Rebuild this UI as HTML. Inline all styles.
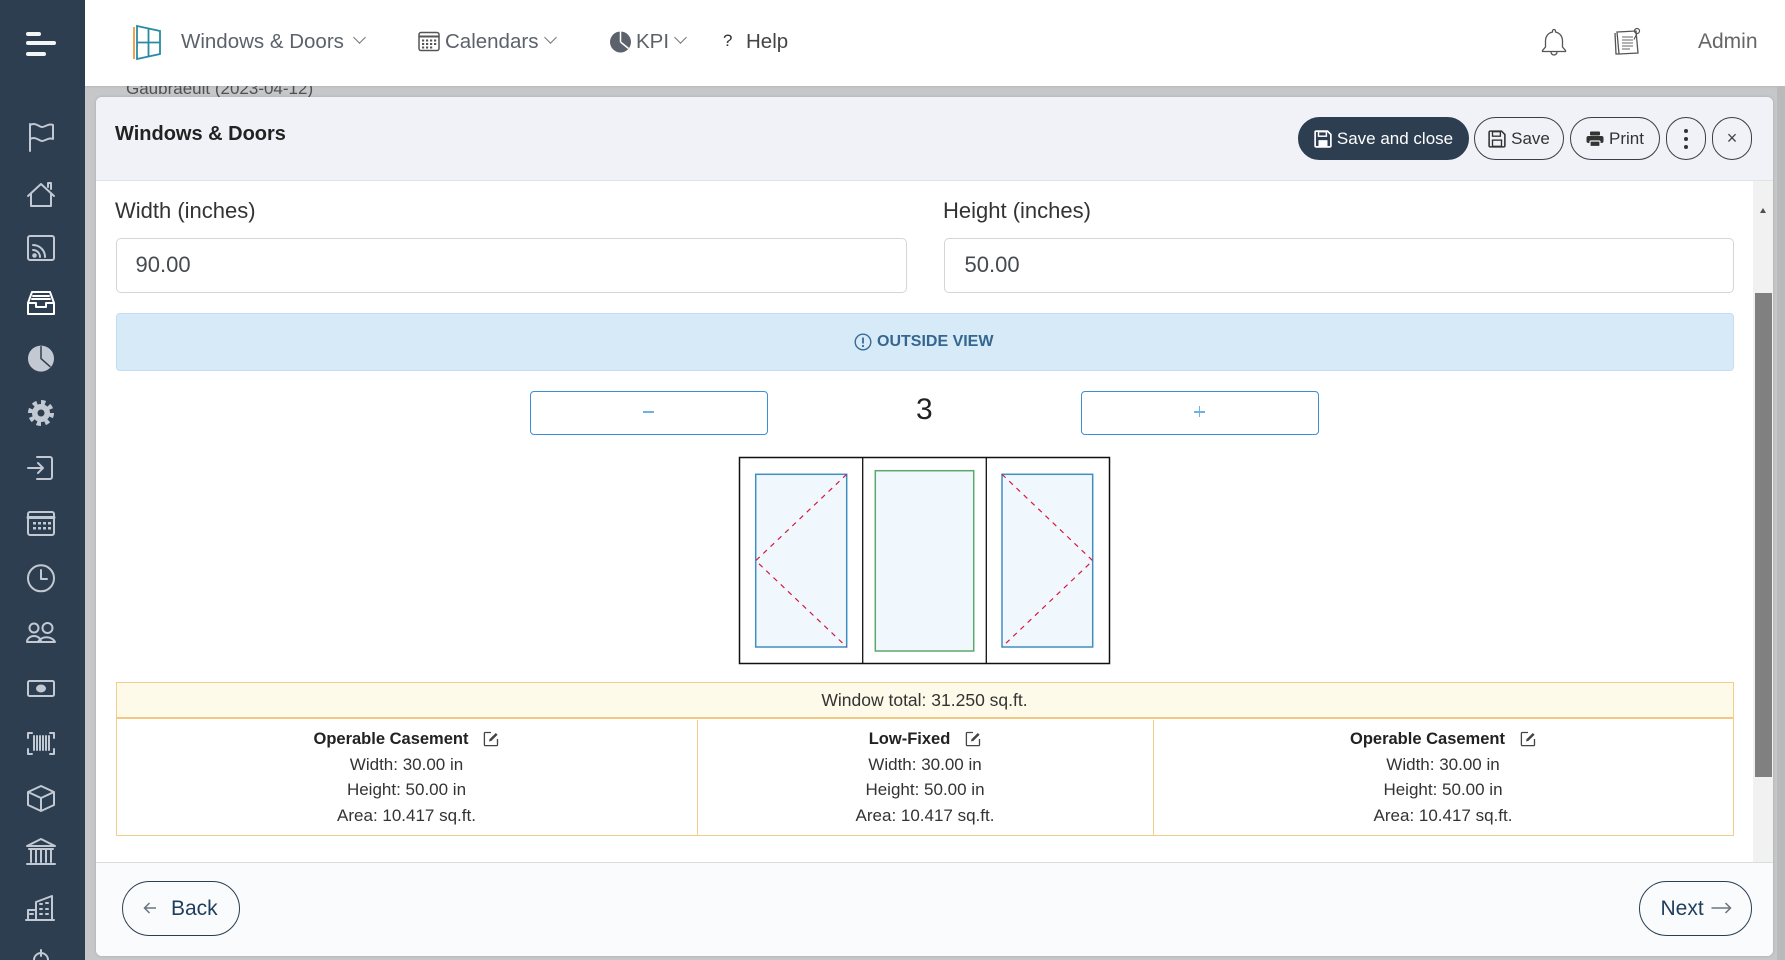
<!DOCTYPE html>
<html><head><meta charset="utf-8">
<style>
*{margin:0;padding:0;box-sizing:border-box}
html,body{width:1785px;height:960px;overflow:hidden;background:#c6c7c9;font-family:"Liberation Sans",sans-serif;color:#333}
.a{position:absolute}
.t{position:absolute;white-space:nowrap}
.btn{position:absolute;display:flex;align-items:center;justify-content:center;border:1px solid #3a3f45;border-radius:24px;font-size:17px;color:#333;gap:5px}
.chev{position:absolute;width:9px;height:9px;border-right:1.5px solid #777;border-bottom:1.5px solid #777;transform:rotate(45deg)}
.cell{position:absolute;top:720px;height:115px;display:flex;flex-direction:column;align-items:center;font-size:17px;color:#333}
.cell .h{display:flex;align-items:center;gap:15px;font-weight:bold;font-size:16.5px;color:#222;height:26px;margin-top:6px}
.cell .l{height:25.3px;line-height:25.3px}
</style></head><body>

<!-- backdrop text -->
<div class="t" style="left:126px;top:79px;font-size:17px;line-height:20px;color:#505050">Gaubraeult (2023-04-12)</div>

<!-- sidebar -->
<div class="a" style="left:0;top:0;width:85px;height:960px;background:#2c3e50"></div>
<div class="a" style="left:26px;top:32px;width:15px;height:4px;border-radius:2px;background:#f2f4f6"></div>
<div class="a" style="left:26px;top:41px;width:30px;height:4px;border-radius:2px;background:#f2f4f6"></div>
<div class="a" style="left:26px;top:52px;width:20px;height:4px;border-radius:2px;background:#f2f4f6"></div>

<svg class="a" style="left:0;top:0" width="85" height="960">
<g fill="none" stroke="#c2c9d2" stroke-width="2" stroke-linecap="round" stroke-linejoin="round">
<path d="M30 151V124 M30 125c6-3 9 2 12 2s7-4 11-2v14c-4-2-8 2-11 2s-6-5-12-2"/>
<path d="M28 196l13-12 13 12 M31 194v12h20v-12 M48 187v-4h3v6"/>
<rect x="28" y="236" width="26" height="24" rx="2"/>
<path d="M33 245a12 12 0 0 1 12 12 M33 250a7 7 0 0 1 7 7"/>
<circle cx="34.5" cy="255.5" r="1.3" fill="#c2c9d2"/>
<g stroke="#ffffff"><path d="M28 303l4-11h18l4 11v11H28z M28 303h8v4h10v-4h8 M33 296h16 M32 299h18"/></g>
<circle cx="41" cy="358.6" r="12" fill="#c2c9d2"/>
<path d="M41 358.6V346.6 M41 358.6l9 8" stroke="#2c3e50" stroke-width="1.5"/>
<circle cx="41" cy="413" r="10.5" stroke-width="5" stroke-dasharray="4.2 4" stroke-linecap="butt"/>
<circle cx="41" cy="413" r="8" fill="#c2c9d2"/>
<circle cx="41" cy="413" r="3.5" fill="#2c3e50" stroke="none"/>
<path d="M37 457h13a2 2 0 0 1 2 2v18a2 2 0 0 1-2 2H37 M28 468h15 M38 463l5 5-5 5"/>
<rect x="28" y="512" width="26" height="23" rx="2"/>
<path d="M28 517.5h26" stroke-width="3"/>
<g fill="#c2c9d2" stroke="none"><rect x="33" y="522" width="3" height="2.5"/><rect x="38" y="522" width="3" height="2.5"/><rect x="43" y="522" width="3" height="2.5"/><rect x="48" y="522" width="3" height="2.5"/><rect x="33" y="527" width="3" height="2.5"/><rect x="38" y="527" width="3" height="2.5"/><rect x="43" y="527" width="3" height="2.5"/><rect x="48" y="527" width="3" height="2.5"/></g>
<circle cx="41" cy="578.3" r="13"/>
<path d="M41 570v9h6"/>
<circle cx="34" cy="628" r="4.5"/><circle cx="47.5" cy="628" r="5"/>
<path d="M27 642a7 6 0 0 1 14 0z M38 642a9 7 0 0 1 17 0z"/>
<rect x="28" y="681" width="26" height="15" rx="1.5"/>
<ellipse cx="41" cy="688.5" rx="4" ry="3" fill="#c2c9d2"/>
<path d="M28 738v-5h4 M28 749v5h4 M54 738v-5h-4 M54 749v5h-4 M34 736v14 M37 736v14 M40 736v14 M43 736v14 M46 736v14 M49 736v14"/>
<path d="M28 792l13-6 13 6v13l-13 6-13-6z M28 792l13 6 13-6 M41 798v13"/>
<path d="M27 846l14-7 14 7z M29 849h24 M31 850v12 M36 850v12 M41 850v12 M46 850v12 M51 850v12 M27 864h28"/>
<path d="M28 920v-10h8v10 M36 920v-18l16-6v24 M26 920h28 M40 904h2 M46 903h2 M40 909h2 M46 909h2 M40 914h2 M46 914h2 M30 914h3"/>
<path d="M34 960a7 7 0 0 1 14 0 M41 950v6"/>
</g>
</svg>

<!-- top nav -->
<div class="a" style="left:85px;top:0;width:1700px;height:86px;background:#fff;box-shadow:0 1px 2px rgba(0,0,0,.08)"></div>
<svg class="a" style="left:130px;top:22px" width="34" height="40">
<path d="M4 5v32" stroke="#f08a24" stroke-width="1.6" fill="none"/>
<path d="M7 4l23 5v23l-23 5z M18.5 6.5v28 M7 20.5h23" stroke="#2a8aa5" stroke-width="1.8" fill="none"/>
</svg>
<div class="t" style="left:181px;top:30px;font-size:20.5px;line-height:24px;color:#5b626b">Windows &amp; Doors</div>
<div class="chev" style="left:355px;top:33px"></div>
<svg class="a" style="left:418px;top:31px" width="22" height="21">
<rect x="1" y="1.5" width="20" height="18" rx="2" fill="none" stroke="#555" stroke-width="1.5"/>
<path d="M1 5.5h20" stroke="#555" stroke-width="2"/>
<g fill="#555"><rect x="4" y="8.5" width="2.2" height="2"/><rect x="8" y="8.5" width="2.2" height="2"/><rect x="12" y="8.5" width="2.2" height="2"/><rect x="16" y="8.5" width="2.2" height="2"/><rect x="4" y="12" width="2.2" height="2"/><rect x="8" y="12" width="2.2" height="2"/><rect x="12" y="12" width="2.2" height="2"/><rect x="16" y="12" width="2.2" height="2"/><rect x="4" y="15.5" width="2.2" height="2"/><rect x="8" y="15.5" width="2.2" height="2"/><rect x="12" y="15.5" width="2.2" height="2"/></g>
</svg>
<div class="t" style="left:445px;top:30px;font-size:20.5px;line-height:24px;color:#5b626b">Calendars</div>
<div class="chev" style="left:546px;top:33px"></div>
<svg class="a" style="left:609px;top:31px" width="23" height="22">
<circle cx="11.5" cy="11" r="10.5" fill="#5b626b"/>
<path d="M11.5 11V0.5 M11.5 11l8 6.5" stroke="#fff" stroke-width="1.5"/>
</svg>
<div class="t" style="left:636px;top:30px;font-size:20.5px;line-height:24px;color:#5b626b">KPI</div>
<div class="chev" style="left:676px;top:33px"></div>
<div class="t" style="left:723px;top:31px;font-size:17px;line-height:20px;color:#333">?</div>
<div class="t" style="left:746px;top:30px;font-size:20.5px;line-height:24px;color:#444">Help</div>
<svg class="a" style="left:1540px;top:27px" width="28" height="30">
<path d="M14 2.5a1.5 1.5 0 0 1 1.5 1.5v1c4.5 1 7 4.5 7 9v6l3 3.5v1H2.5v-1l3-3.5v-6c0-4.5 2.5-8 7-9V4A1.5 1.5 0 0 1 14 2.5z M11 25a3 3 0 0 0 6 0" fill="none" stroke="#555" stroke-width="1.3"/>
</svg>
<svg class="a" style="left:1612px;top:26px" width="34" height="30">
<path d="M5 6l19-1 2 22-19 1z M3 7l1 21 3 0" fill="none" stroke="#555" stroke-width="1.3"/>
<path d="M10 11h11 M10 14h11 M10 17h11 M10 20h11 M10 23h8" stroke="#666" stroke-width="1"/>
<circle cx="25" cy="5" r="2.5" fill="none" stroke="#555" stroke-width="1.2"/>
<path d="M25 7.5l-3 6" stroke="#555" stroke-width="1.2"/>
</svg>
<div class="t" style="left:1698px;top:30px;font-size:21px;line-height:24px;color:#666">Admin</div>

<!-- right page strip -->
<div class="a" style="left:1777px;top:86px;width:8px;height:874px;background:#b9babc"></div>

<!-- modal -->
<div class="a" style="left:96px;top:97px;width:1677px;height:859px;background:#fff;border-radius:6px;overflow:hidden;box-shadow:0 0 3px rgba(0,0,0,.15)">
  <div class="a" style="left:0;top:0;width:1677px;height:84px;background:#f0f2f7;border-bottom:1px solid #dfe2e6"></div>
  <div class="a" style="left:0;top:765px;width:1677px;height:94px;background:#fafbfc;border-top:1px solid #dadcde"></div>
</div>

<div class="t" style="left:115px;top:122px;font-size:20px;line-height:24px;font-weight:bold;color:#222">Windows &amp; Doors</div>

<!-- header buttons -->
<div class="btn" style="left:1298px;top:117px;width:171px;height:43px;background:#2c3e50;border-color:#2c3e50;color:#fff">
<svg width="18" height="18" viewBox="0 0 16 16"><path d="M2 1h10l3 3v10a1 1 0 0 1-1 1H2a1 1 0 0 1-1-1V2a1 1 0 0 1 1-1z" fill="none" stroke="#fff" stroke-width="1.5"/><rect x="4" y="1.5" width="7" height="4" fill="none" stroke="#fff" stroke-width="1.3"/><rect x="4" y="9" width="8" height="5.5" fill="#fff"/></svg>
<span>Save and close</span></div>
<div class="btn" style="left:1474px;top:117px;width:90px;height:43px">
<svg width="18" height="18" viewBox="0 0 16 16"><path d="M2 1h10l3 3v10a1 1 0 0 1-1 1H2a1 1 0 0 1-1-1V2a1 1 0 0 1 1-1z" fill="none" stroke="#333" stroke-width="1.4"/><rect x="4" y="1.5" width="7" height="4" fill="none" stroke="#333" stroke-width="1.2"/><rect x="4" y="9" width="8" height="5.5" fill="none" stroke="#333" stroke-width="1.2"/></svg>
<span>Save</span></div>
<div class="btn" style="left:1570px;top:117px;width:90px;height:43px">
<svg width="18" height="16" viewBox="0 0 18 16"><rect x="4" y="0.5" width="10" height="4" rx="1" fill="#333"/><rect x="0.5" y="5" width="17" height="7" rx="2" fill="#333"/><rect x="4" y="10" width="10" height="5.5" rx="1" fill="#333" stroke="#f0f2f7" stroke-width="1.2"/></svg>
<span>Print</span></div>
<div class="btn" style="left:1666px;top:117px;width:40px;height:43px;flex-direction:column;gap:4px">
<div style="width:4px;height:4px;border-radius:2px;background:#333"></div><div style="width:4px;height:4px;border-radius:2px;background:#333"></div><div style="width:4px;height:4px;border-radius:2px;background:#333"></div></div>
<div class="btn" style="left:1712px;top:117px;width:40px;height:43px;font-size:18px;color:#444">×</div>

<!-- scrollbar -->
<div class="a" style="left:1753px;top:181px;width:20px;height:681px;background:#f1f1f1"></div>
<div class="a" style="left:1755px;top:293px;width:17px;height:484px;background:#808080"></div>
<div class="a" style="left:1760px;top:208px;width:0;height:0;border-left:3.5px solid transparent;border-right:3.5px solid transparent;border-bottom:5px solid #505050"></div>

<!-- form -->
<div class="t" style="left:115px;top:197px;font-size:22px;line-height:28px;color:#333">Width (inches)</div>
<div class="t" style="left:943px;top:197px;font-size:22px;line-height:28px;color:#333">Height (inches)</div>
<div class="a" style="left:115.5px;top:238px;width:791px;height:55px;border:1px solid #d3d5d8;border-radius:5px;background:#fff"></div>
<div class="a" style="left:943.5px;top:238px;width:790px;height:55px;border:1px solid #d3d5d8;border-radius:5px;background:#fff"></div>
<div class="t" style="left:135.5px;top:251px;font-size:22px;line-height:28px;color:#454a50">90.00</div>
<div class="t" style="left:964.5px;top:251px;font-size:22px;line-height:28px;color:#454a50">50.00</div>

<div class="a" style="left:115.5px;top:313px;width:1618px;height:58px;background:#d7eaf7;border:1px solid #c3def2;border-radius:4px"></div>
<svg class="a" style="left:854px;top:333px" width="18" height="18"><circle cx="9" cy="9" r="7.8" fill="none" stroke="#3a6b94" stroke-width="1.4"/><path d="M9 4.5v6" stroke="#3a6b94" stroke-width="1.8"/><circle cx="9" cy="13" r="1.1" fill="#3a6b94"/></svg>
<div class="t" style="left:877px;top:331px;font-size:16px;line-height:22px;font-weight:bold;color:#35668f">OUTSIDE VIEW</div>

<div class="a" style="left:529.5px;top:391px;width:238px;height:43.5px;border:1px solid #3b8fd8;border-radius:4px;background:#fff"></div>
<div class="a" style="left:643px;top:411px;width:11px;height:1.5px;background:#6fb1e2"></div>
<div class="t" style="left:916px;top:392px;font-size:30px;line-height:36px;color:#222">3</div>
<div class="a" style="left:1081px;top:391px;width:238px;height:43.5px;border:1px solid #3b8fd8;border-radius:4px;background:#fff"></div>
<div class="a" style="left:1194px;top:411px;width:11px;height:1.5px;background:#6fb1e2"></div>
<div class="a" style="left:1198.8px;top:406.2px;width:1.5px;height:11px;background:#6fb1e2"></div>

<!-- window drawing -->
<svg class="a" style="left:0;top:0" width="1785" height="960" overflow="visible">
<rect x="739.5" y="457.5" width="370" height="206" fill="#fff" stroke="#111" stroke-width="1.5"/>
<path d="M862.7 457.5v206 M986.3 457.5v206" stroke="#111" stroke-width="1.3"/>
<rect x="755.7" y="474.3" width="91" height="172.7" fill="#f0f8fd" stroke="#3f8fbf" stroke-width="1.5"/>
<rect x="875.3" y="470.7" width="98.4" height="180.3" fill="#f0f8fd" stroke="#5aa96c" stroke-width="1.5"/>
<rect x="1002" y="474.3" width="90.7" height="172.7" fill="#f0f8fd" stroke="#3f8fbf" stroke-width="1.5"/>
<path d="M846.7 474.3L755.7 560.7L846.7 647" fill="none" stroke="#d9173d" stroke-width="1.2" stroke-dasharray="5 5"/>
<path d="M1002 474.3L1092.7 560.7L1002 647" fill="none" stroke="#d9173d" stroke-width="1.2" stroke-dasharray="5 5"/>
</svg>

<!-- table -->
<div class="a" style="left:115.5px;top:681.5px;width:1618px;height:154px;border:1px solid #f3cd8b"></div>
<div class="a" style="left:116.5px;top:682.5px;width:1616px;height:36px;background:#fefae9;border-bottom:2px solid #f3c982"></div>
<div class="t" style="left:115.5px;top:688px;width:1618px;text-align:center;font-size:17.5px;line-height:24px;color:#333">Window total: 31.250 sq.ft.</div>
<div class="a" style="left:696.5px;top:720px;width:1px;height:115px;background:#f3cd8b"></div>
<div class="a" style="left:1152.5px;top:720px;width:1px;height:115px;background:#f3cd8b"></div>

<div class="cell" style="left:116px;width:581px">
<div class="h"><span>Operable Casement</span><svg width="16" height="16" viewBox="0 0 16 16"><path d="M8 1.5H2.2a.8.8 0 0 0-.8.8v11.5a.8.8 0 0 0 .8.8h11.5a.8.8 0 0 0 .8-.8V8" fill="none" stroke="#444" stroke-width="1.3"/><path d="M6 10.5l.6-2.4L12.8 2l1.8 1.8-6.2 6.1z" fill="#444"/></svg></div>
<div class="l">Width: 30.00 in</div><div class="l">Height: 50.00 in</div><div class="l">Area: 10.417 sq.ft.</div></div>
<div class="cell" style="left:697px;width:456px">
<div class="h"><span>Low-Fixed</span><svg width="16" height="16" viewBox="0 0 16 16"><path d="M8 1.5H2.2a.8.8 0 0 0-.8.8v11.5a.8.8 0 0 0 .8.8h11.5a.8.8 0 0 0 .8-.8V8" fill="none" stroke="#444" stroke-width="1.3"/><path d="M6 10.5l.6-2.4L12.8 2l1.8 1.8-6.2 6.1z" fill="#444"/></svg></div>
<div class="l">Width: 30.00 in</div><div class="l">Height: 50.00 in</div><div class="l">Area: 10.417 sq.ft.</div></div>
<div class="cell" style="left:1153px;width:580px">
<div class="h"><span>Operable Casement</span><svg width="16" height="16" viewBox="0 0 16 16"><path d="M8 1.5H2.2a.8.8 0 0 0-.8.8v11.5a.8.8 0 0 0 .8.8h11.5a.8.8 0 0 0 .8-.8V8" fill="none" stroke="#444" stroke-width="1.3"/><path d="M6 10.5l.6-2.4L12.8 2l1.8 1.8-6.2 6.1z" fill="#444"/></svg></div>
<div class="l">Width: 30.00 in</div><div class="l">Height: 50.00 in</div><div class="l">Area: 10.417 sq.ft.</div></div>

<!-- footer buttons -->
<div class="a" style="left:122px;top:881px;width:118px;height:55px;border-radius:28px;border:1px solid #2c3e50"></div>
<svg class="a" style="left:143px;top:901px" width="14" height="14"><path d="M13 7H1.5 M6.5 2L1.5 7l5 5" fill="none" stroke="#6a7580" stroke-width="1.5"/></svg>
<div class="t" style="left:171px;top:896px;font-size:21px;line-height:26px;color:#1f3d5c">Back</div>
<div class="a" style="left:1639px;top:881px;width:113px;height:55px;border-radius:28px;border:1px solid #2c3e50"></div>
<div class="t" style="left:1660.5px;top:896px;font-size:21px;line-height:26px;color:#1f3d5c">Next</div>
<svg class="a" style="left:1711px;top:901px" width="21" height="14"><path d="M0.5 7H19.5 M14.5 2l5 5-5 5" fill="none" stroke="#6a7580" stroke-width="1.5"/></svg>

</body></html>
